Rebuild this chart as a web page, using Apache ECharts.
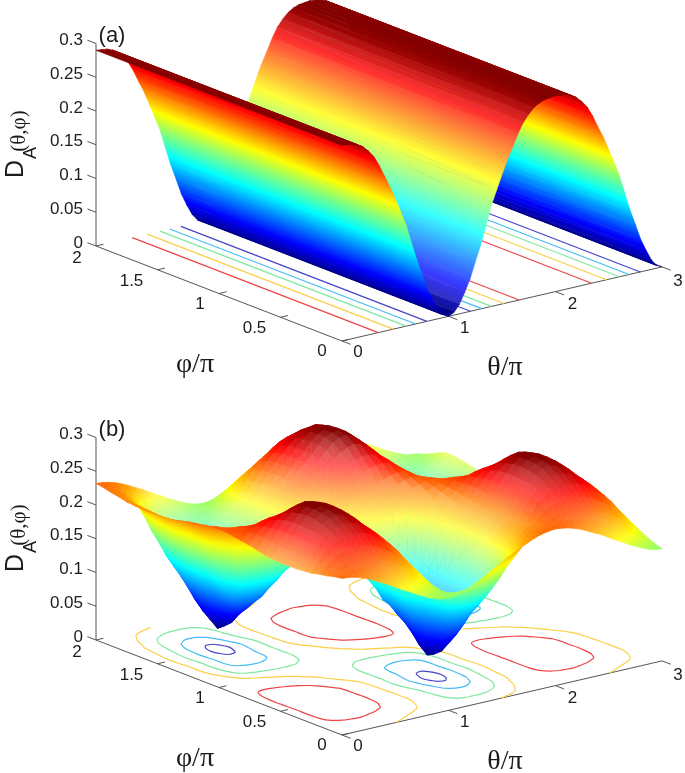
<!DOCTYPE html>
<html><head><meta charset="utf-8"><style>html,body{margin:0;padding:0;background:#fff}#c{width:685px;height:773px}</style>
<script src="https://cdn.jsdelivr.net/npm/echarts@6/dist/echarts.min.js"></script></head><body><div id="c"></div>
<script>
// ---- tick labels
const zTickLabels = ['0','0.05','0.1','0.15','0.2','0.25','0.3'];
const phiTickLabels = ['0','0.5','1','1.5','2'];
const thetaTickLabels = ['0','1','2','3'];
const contourLevels = [0.05,0.1,0.15,0.2,0.25];
const contourColors = ['#4444cc','#45bcf5','#7fe8a0','#fbcf45','#ee4444'];

// ---- panel (a): D_A read along theta (theta/pi = 0 .. 3, step 0.05), same for every phi
const profileA = [290,289,288,285,280,272,262,247,229,212,192,171,150,122,95,72,48,30,14,4,
 0,4,14,30,48,72,95,122,150,171,192,212,229,247,262,272,280,285,288,289,
 290,289,288,285,280,272,262,247,229,212,192,171,150,122,95,72,48,30,14,4,0];
const phiGridA = [0,2];

// ---- panel (b): D_A read on phi/pi = 0..1 (rows, step 1/16), theta/pi = 0..2 (columns, step 1/16).
// The picture repeats every 2 in theta, and phi>1 mirrors phi<1 through the point (1,1).
const quarterB = [
[232,231,229,226,222,217,212,207,201,195,190,184,179,174,170,167,166,167,170,174,179,184,190,195,201,207,212,217,222,226,229,231,232],
[230,232,234,234,233,230,227,223,217,212,206,200,195,189,183,176,170,167,165,165,165,166,168,171,175,181,188,198,210,218,224,228,230],
[227,233,237,240,241,241,240,237,232,227,222,216,210,204,196,185,175,167,160,155,150,148,147,147,150,156,165,180,198,211,220,225,227],
[225,234,242,247,250,251,252,250,247,243,237,231,224,216,205,193,181,170,159,148,137,131,128,127,130,135,145,162,186,204,214,221,225],
[222,236,249,256,261,264,266,265,263,259,253,245,236,225,212,199,185,172,158,142,126,114,108,106,110,117,128,148,175,195,209,218,222],
[221,237,252,262,270,275,277,276,273,268,260,251,241,229,215,200,184,170,155,136,116,97,84,81,87,100,116,140,167,191,207,217,221],
[220,237,253,266,276,283,286,284,281,273,263,253,243,230,216,200,182,166,150,130,106,81,62,58,67,86,108,135,160,187,205,216,220],
[220,237,253,267,279,286,289,288,284,276,264,254,243,231,216,199,180,160,141,119,94,65,43,41,55,79,104,131,155,182,202,215,220],
[220,237,253,268,280,287,290,289,285,275,264,253,242,230,216,198,177,155,133,110,85,55,33,32,50,76,102,128,152,178,200,214,220],
[221,238,254,268,279,287,290,289,285,275,263,253,243,231,215,196,175,154,134,113,89,62,43,41,56,79,104,129,154,181,202,215,221],
[222,239,255,267,276,284,288,286,281,271,260,251,241,228,212,193,172,155,138,118,96,74,60,57,66,84,106,131,157,185,205,217,222],
[225,241,253,263,271,276,279,276,271,262,252,240,228,215,201,185,168,154,138,118,98,82,73,71,76,88,104,129,157,185,205,218,225],
[228,241,251,258,263,265,265,262,257,250,240,227,213,200,189,177,165,153,138,120,102,92,87,86,89,95,106,130,160,186,205,219,228],
[230,240,248,253,255,254,251,247,242,236,226,214,201,190,181,172,163,153,142,129,117,110,106,105,107,111,120,139,171,194,210,223,230],
[232,239,243,243,241,237,232,227,221,215,207,198,189,181,174,168,162,155,148,141,135,131,128,128,130,134,141,156,186,204,217,227,232],
[234,237,238,236,232,226,219,213,207,201,194,187,180,174,169,166,163,159,156,153,152,152,153,156,160,165,172,185,204,216,225,231,234],
[235,234,232,228,222,213,203,196,190,184,178,173,169,166,164,163,163,163,164,166,169,173,178,184,190,196,203,213,222,228,232,234,235]];
const upperB = quarterB.slice(0,-1).reverse().map(r=>r.slice().reverse());
const rowsB = quarterB.concat(upperB).map(r=>r.concat(r.slice(1,17)));

// ---- view of the 3-D box (orthographic) in canvas units
const view = {ox:342, oy:341, ax:106.7, ay:-24.7, bx:-123, by:-47.5, cz:-675};
const panels = [
 {name:'a', dy:0,   tag:'(a)', thetas:profileA.map((_,i)=>i*0.05), phis:phiGridA, m:phiGridA.map(()=>profileA.map(v=>v/1000)), cmin:0, cmax:0.29, fade:0.22, slope:0.1, start:2, blur:2},
 {name:'b', dy:394, tag:'(b)', thetas:rowsB[0].map((_,i)=>i/16), phis:rowsB.map((_,i)=>i/16), m:rowsB.map(r=>r.map(v=>v/1000)), cmin:0.03, cmax:0.29, fade:0.36, slope:0.16, start:1.4, blur:2}
];
function proj(p,t,f,z){return [view.ox+t*view.ax+f*view.bx, view.oy+p.dy+t*view.ay+f*view.by+z*view.cz];}
function clamp(v){return Math.max(0,Math.min(1,v));}
function jet(p,z,w){
  const t=clamp((z-p.cmin)/(p.cmax-p.cmin));
  const ch=c=>Math.round(255*(clamp(1.5-Math.abs(4*t-c))*(1-w)+w));
  return 'rgb('+ch(3)+','+ch(2)+','+ch(1)+')';
}
function shoelace(q){let s=0;for(let i=0;i<q.length;i++){const a=q[i],b=q[(i+1)%q.length];s+=a[0]*b[1]-b[0]*a[1];}return s/2;}
function triFill(p,P,Z,w){
  const [x1,y1]=P[0],[x2,y2]=P[1],[x3,y3]=P[2];
  const det=(x2-x1)*(y3-y1)-(x3-x1)*(y2-y1);
  const zmin=Math.min(...Z),zmax=Math.max(...Z);
  if(Math.abs(det)<1e-3||zmax-zmin<1e-6) return jet(p,(zmin+zmax)/2,w);
  const gx=((Z[1]-Z[0])*(y3-y1)-(Z[2]-Z[0])*(y2-y1))/det;
  const gy=((x2-x1)*(Z[2]-Z[0])-(x3-x1)*(Z[1]-Z[0]))/det;
  const g2=gx*gx+gy*gy;
  const i=Z.indexOf(zmin), s=(zmax-zmin)/g2;
  const stops=[];for(let n=0;n<=4;n++){stops.push({offset:n/4,color:jet(p,zmin+(zmax-zmin)*n/4,w)});}
  return new echarts.graphic.LinearGradient(P[i][0],P[i][1],P[i][0]+gx*s,P[i][1]+gy*s,stops,true);
}
// how much of the white behind the mesh shows through, per cell (steeper towards the viewer: more)
function meshFade(p){
  const nk=p.phis.length-1,nj=p.thetas.length-1,T=p.thetas,F=p.phis,m=p.m,q=[];
  for(let k=0;k<nk;k++){q.push([]);for(let j=0;j<nj;j++){
    const idx=[[k,j],[k,j+1],[k+1,j+1],[k+1,j]];
    q[k].push(shoelace(idx.map(a=>proj(p,T[a[1]],F[a[0]],m[a[0]][a[1]])))/shoelace(idx.map(a=>proj(p,T[a[1]],F[a[0]],0))));
  }}
  return q.map((row,k)=>row.map((_,j)=>{let s=0,n=0;
    for(let a=Math.max(0,k-p.blur);a<=Math.min(nk-1,k+p.blur);a++)for(let b=Math.max(0,j-p.blur);b<=Math.min(nj-1,j+p.blur);b++){s+=q[a][b];n++;}
    return Math.max(0,Math.min(p.fade,(s/n-p.start)*p.slope));}));
}
function surfaceSeries(p){
  const data=[],fade=meshFade(p);
  for(let j=p.thetas.length-2;j>=0;j--)for(let k=p.phis.length-2;k>=0;k--)data.push([j,k]);
  return {type:'custom',coordinateSystem:'cartesian2d',silent:true,animation:false,z:3,data,
    encode:{x:[],y:[]},
    renderItem(params,api){
      const j=api.value(0),k=api.value(1),T=p.thetas,F=p.phis,m=p.m;
      const idx=[[k,j],[k,j+1],[k+1,j+1],[k+1,j]];
      const Z=idx.map(a=>m[a[0]][a[1]]);
      const w=fade[k][j];
      const S=idx.map(a=>api.coord(proj(p,T[a[1]],F[a[0]],m[a[0]][a[1]])));
      const tri=(a,b,c)=>{const P=[S[a],S[b],S[c]],fill=triFill(p,P,[Z[a],Z[b],Z[c]],w);
        return {type:'polygon',shape:{points:P},style:{fill:fill,stroke:fill,lineWidth:0.6}};};
      return {type:'group',children:[tri(0,1,2),tri(0,2,3)]};
    }};
}
// marching squares over a panel's own grid: chained contour lines
function contours(p,level){
  const {thetas:T,phis:F,m}=p, segs=[];
  const pt=(k1,j1,k2,j2)=>{const a=m[k1][j1],b=m[k2][j2],u=(level-a)/(b-a);
    return [T[j1]+(T[j2]-T[j1])*u,F[k1]+(F[k2]-F[k1])*u];};
  for(let k=0;k<F.length-1;k++)for(let j=0;j<T.length-1;j++){
    const c=[m[k][j],m[k][j+1],m[k+1][j+1],m[k+1][j]];
    const E=[];
    if((c[0]<level)!==(c[1]<level))E.push(['h'+k+'_'+j,pt(k,j,k,j+1)]);
    if((c[1]<level)!==(c[2]<level))E.push(['v'+k+'_'+(j+1),pt(k,j+1,k+1,j+1)]);
    if((c[3]<level)!==(c[2]<level))E.push(['h'+(k+1)+'_'+j,pt(k+1,j,k+1,j+1)]);
    if((c[0]<level)!==(c[3]<level))E.push(['v'+k+'_'+j,pt(k,j,k+1,j)]);
    if(E.length===2)segs.push([E[0],E[1]]);
    else if(E.length===4){segs.push([E[0],E[1]]);segs.push([E[2],E[3]]);}
  }
  const used=segs.map(()=>false),lines=[];
  for(let i=0;i<segs.length;i++){ if(used[i])continue; used[i]=true;
    const line=[segs[i][0],segs[i][1]];
    for(const dir of [1,0]){ let go=true;
      while(go){go=false; const end=dir?line[line.length-1]:line[0];
        for(let n=0;n<segs.length;n++){ if(used[n])continue;
          const s=segs[n]; let nx=null;
          if(s[0][0]===end[0])nx=s[1]; else if(s[1][0]===end[0])nx=s[0];
          if(nx){used[n]=true; if(dir)line.push(nx); else line.unshift(nx); go=true; break;}
        }}}
    lines.push(line.map(e=>e[1]));
  }
  return lines;
}
function contourSeries(p){
  const lines=[];
  contourLevels.forEach((lv,i)=>contours(p,lv).forEach(l=>lines.push({l,i})));
  return {type:'custom',coordinateSystem:'cartesian2d',silent:true,animation:false,z:2,
    data:lines.map((_,i)=>[i]),encode:{x:[],y:[]},
    renderItem(params,api){
      const o=lines[api.value(0)];
      return {type:'polyline',shape:{points:o.l.map(c=>api.coord(proj(p,c[0],c[1],0))),smooth:o.l.length>2?0.3:0},
        style:{fill:null,stroke:contourColors[o.i],lineWidth:1.2}};
    }};
}
const sans='"Liberation Sans",Arial,sans-serif', serif='"Liberation Serif",serif';
function frameSeries(p){
  return {type:'custom',coordinateSystem:'cartesian2d',silent:true,animation:false,z:1,data:[[0]],encode:{x:[],y:[]},
    renderItem(params,api){
      const ch=[];
      const C=c=>api.coord(c);
      const line=(A,B)=>ch.push({type:'line',shape:{x1:C(A)[0],y1:C(A)[1],x2:C(B)[0],y2:C(B)[1]},style:{stroke:'#555',lineWidth:1}});
      const txt=(s,xy,o)=>ch.push({type:'text',x:C(xy)[0],y:C(xy)[1],rotation:(o&&o.rot)||0,style:{text:s,fill:'#1c1c1c',
        font:((o&&o.size)||17)+'px '+((o&&o.fam)||sans),align:(o&&o.align)||'center',verticalAlign:'middle'}});
      line(proj(p,0,2,0),proj(p,0,2,0.3));
      line(proj(p,0,2,0),proj(p,0,0,0));
      line(proj(p,0,0,0),proj(p,3,0,0));
      zTickLabels.forEach(s=>{const z=+s,A=proj(p,0,2,z),B=proj(p,0,2.07,z);line(A,B);
        txt(s,[83,A[1]-3],{align:'right'});});
      phiTickLabels.forEach(s=>{const f=+s,A=proj(p,0,f,0),B=proj(p,0.07,f,0);line(A,B);
        const L=proj(p,0,f,0);
        const off={'0':[-20,10],'0.5':[-26,11],'1':[-19,10.5],'1.5':[-26,11.5],'2':[-19,12]}[s];
        txt(s,[L[0]+off[0],L[1]+off[1]]);});
      thetaTickLabels.forEach(s=>{const t=+s,A=proj(p,t,0,0),B=proj(p,t,-0.07,0);line(A,B);
        const off={'0':[16,11],'1':[16,12],'2':[17,13],'3':[16,14]}[s];
        txt(s,[A[0]+off[0],A[1]+off[1]]);});
      txt(p.tag,[112,36+p.dy],{size:22});
      txt('φ/π',[195,365+p.dy],{size:28,fam:serif});
      txt('θ/π',[505,368+p.dy],{size:28,fam:serif});
      const r=Math.PI/2;
      txt('D',[16,169+p.dy],{size:25,rot:r});
      txt('A',[31,153+p.dy],{size:18,rot:r});
      txt('(θ,φ)',[19,131+p.dy],{size:21,fam:serif,rot:r});
      return {type:'group',children:ch};
    }};
}
const chart=echarts.init(document.getElementById('c'),null,{renderer:'canvas'});
const series=[];
panels.forEach(p=>{series.push(frameSeries(p),contourSeries(p),surfaceSeries(p));});
chart.setOption({animation:false,backgroundColor:'#fff',
  grid:{left:0,right:0,top:0,bottom:0,containLabel:false},
  xAxis:{type:'value',min:0,max:685,show:false},
  yAxis:{type:'value',min:0,max:773,inverse:true,show:false},
  series});
</script></body></html>
